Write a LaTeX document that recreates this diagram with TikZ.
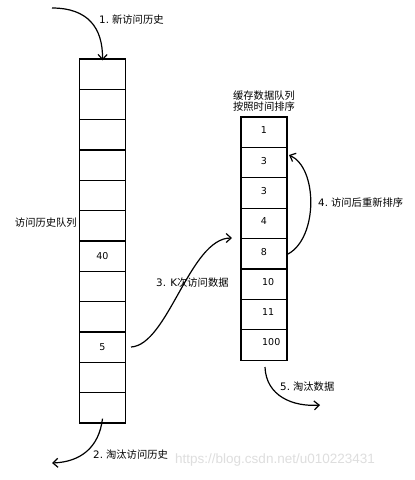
\documentclass[tikz,border=0pt]{standalone}
\usepackage{fontspec}
\setmainfont{Noto Sans CJK SC}
\newfontfamily\dv{DejaVu Sans}
\newfontfamily\wmfont{Liberation Sans}
\usetikzlibrary{arrows.meta}
\begin{document}
\begin{tikzpicture}[x=1pt,y=-1pt,
  cell/.style={draw,line width=1.3pt,minimum width=46pt,inner sep=0pt},
  lab/.style={font=\fontsize{10.3}{12}\selectfont,inner sep=0pt},
  num/.style={font=\dv\fontsize{9.5}{11}\selectfont,inner sep=0pt},
  arr/.style={line width=1.2pt,-{Straight Barb[length=5pt,width=9pt,line width=1.2pt]}}]
\fill[white] (0,0) rectangle (415,480);
\useasboundingbox (0,0) rectangle (415,480);
% left column
\foreach \i in {1,...,12}{
  \node[cell,minimum height=30.33pt] (L\i) at (102.5,{59+(\i-0.5)*30.33}) {};
}
\node[num] at (L7.center) {40};
\node[num] at (L10.center) {5};
\node[lab,anchor=east] (lq) at (77,223) {访问历史队列};
% right column
\foreach \i in {1,...,8}{
  \node[cell,minimum height=30.4pt] (R\i) at (264,{117+(\i-0.5)*30.4}) {};
}
\node[num] at ([yshift=2.5pt]R1.center) {1};
\node[num] at ([yshift=2pt]R2.center) {3};
\node[num] at ([yshift=2pt]R3.center) {3};
\node[num] at ([yshift=2pt]R4.center) {4};
\node[num] at ([yshift=2pt]R5.center) {8};
\node[num,anchor=west] at (262,{117+5.5*30.4-2.5}) {10};
\node[num,anchor=west] at (262,{117+6.5*30.4-2.5}) {11};
\node[num,anchor=west] at (262,{117+7.5*30.4-3}) {100};
\node[lab,align=center] (rq) at (264,101) {缓存数据队列\\[-1pt]按照时间排序};
% arrows
\coordinate (s1) at (52,8);
\draw[arr] (s1) .. controls (88,8) and (103,28) .. ([yshift=-2pt]L1.north);
\node[lab,anchor=west] (t1) at (99,20) {{\dv 1.} 新访问历史};
\coordinate (e2) at (52,463);
\draw[arr] ([yshift=5pt]L12.south) .. controls (99,448) and (80,462) .. (e2);
\node[lab,anchor=west] (t2) at (93,455) {{\dv 2.} 淘汰访问历史};
\coordinate (s3) at (131,347);
\coordinate (e3) at (232,238);
\draw[arr] (s3) .. controls (168,345) and (190,238) .. (e3);
\node[lab,anchor=west] (t3) at (156,283) {{\dv 3. K}次访问数据};
\coordinate (s4) at (288,254);
\coordinate (e4) at (289,155);
\draw[arr] (s4) .. controls (318,238) and (318,168) .. (e4);
\node[lab,anchor=west] (t4) at (318,203) {{\dv 4.} 访问后重新排序};
\coordinate (s5) at (265,367);
\coordinate (e5) at (320,405);
\draw[arr] (s5) .. controls (266,396) and (293,407) .. (e5);
\node[lab,anchor=west] (t5) at (280,387) {{\dv 5.} 淘汰数据};
\node[anchor=west,inner sep=0pt,text=black!13,font=\wmfont\fontsize{13.5}{15}\selectfont] (wm) at (175,460) {https://blog.csdn.net/u010223431};
\end{tikzpicture}
\end{document}
